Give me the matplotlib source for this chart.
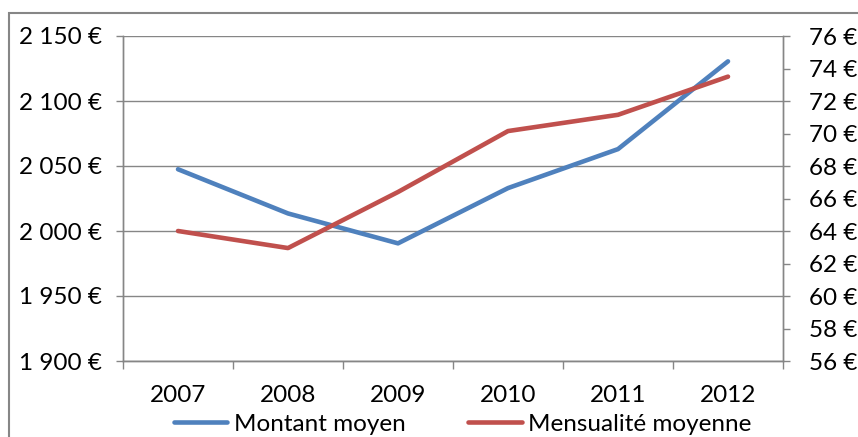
import matplotlib.pyplot as plt
from matplotlib.ticker import FuncFormatter, FixedLocator
from matplotlib.patches import Rectangle

plt.rcParams['font.family'] = ['Lato', 'DejaVu Sans']

years = ['2007', '2008', '2009', '2010', '2011', '2012']
montant_moyen = [2047.5, 2013.5, 1990.5, 2033, 2063, 2130.5]
mensualite_moyenne = [64.0, 62.95, 66.4, 70.15, 71.15, 73.5]

blue = '#4F81BD'
red = '#C0504D'
grid_c = '#868686'
fs = 17.5

def euro_fmt(v, pos):
    s = '{:,.0f}'.format(v).replace(',', ' ')
    return s + ' €'

fig = plt.figure(figsize=(8.58, 4.37), dpi=100)
fig.patches.append(Rectangle((9 / 858, -0.1), 1.2, 1 - 13 / 437 + 0.1,
                             transform=fig.transFigure, fill=False,
                             edgecolor=grid_c, linewidth=1.5))
ax = fig.add_axes([123 / 858, 1 - 361 / 437, 660 / 858, 325 / 437])
ax2 = ax.twinx()

x = list(range(len(years)))
l1, = ax.plot(x, montant_moyen, color=blue, lw=3.3, solid_capstyle='round',
              label='Montant moyen')
l2, = ax2.plot(x, mensualite_moyenne, color=red, lw=3.3, solid_capstyle='round',
               label='Mensualité moyenne')

ax.set_xlim(-0.5, len(years) - 0.5)
ax.set_ylim(1900, 2150)
ax.set_yticks([1900, 1950, 2000, 2050, 2100, 2150])
ax.yaxis.set_major_formatter(FuncFormatter(euro_fmt))
ax2.set_ylim(56, 76)
ax2.set_yticks(range(56, 77, 2))
ax2.yaxis.set_major_formatter(FuncFormatter(euro_fmt))

ax.xaxis.set_major_locator(FixedLocator([i - 0.5 for i in range(len(years) + 1)]))
ax.xaxis.set_major_formatter(FuncFormatter(lambda v, p: ''))
ax.xaxis.set_minor_locator(FixedLocator(x))
ax.set_xticklabels(years, minor=True)
ax.tick_params(axis='x', which='minor', length=0, pad=17, labelsize=fs)
ax.tick_params(axis='x', which='major', length=6, width=1, color=grid_c)

ax.tick_params(axis='y', length=5, width=1, color=grid_c, pad=10, labelsize=fs)
ax2.tick_params(axis='y', length=5, width=1, color=grid_c, pad=14, labelsize=fs)

ax.grid(axis='y', color=grid_c, lw=1)
ax.set_axisbelow(True)
for a in (ax, ax2):
    a.spines['top'].set_visible(False)
    for s in ('left', 'right', 'bottom'):
        a.spines[s].set_color(grid_c)
        a.spines[s].set_linewidth(1)

fig.legend([l1, l2], ['Montant moyen', 'Mensualité moyenne'], loc='center left',
           bbox_to_anchor=(174 / 858, 1 - 424 / 437), ncol=2, frameon=False,
           fontsize=fs, handlelength=2.2, handletextpad=0.25, columnspacing=2.6,
           borderpad=0, borderaxespad=0)

fig.savefig('out.png', dpi=100)
